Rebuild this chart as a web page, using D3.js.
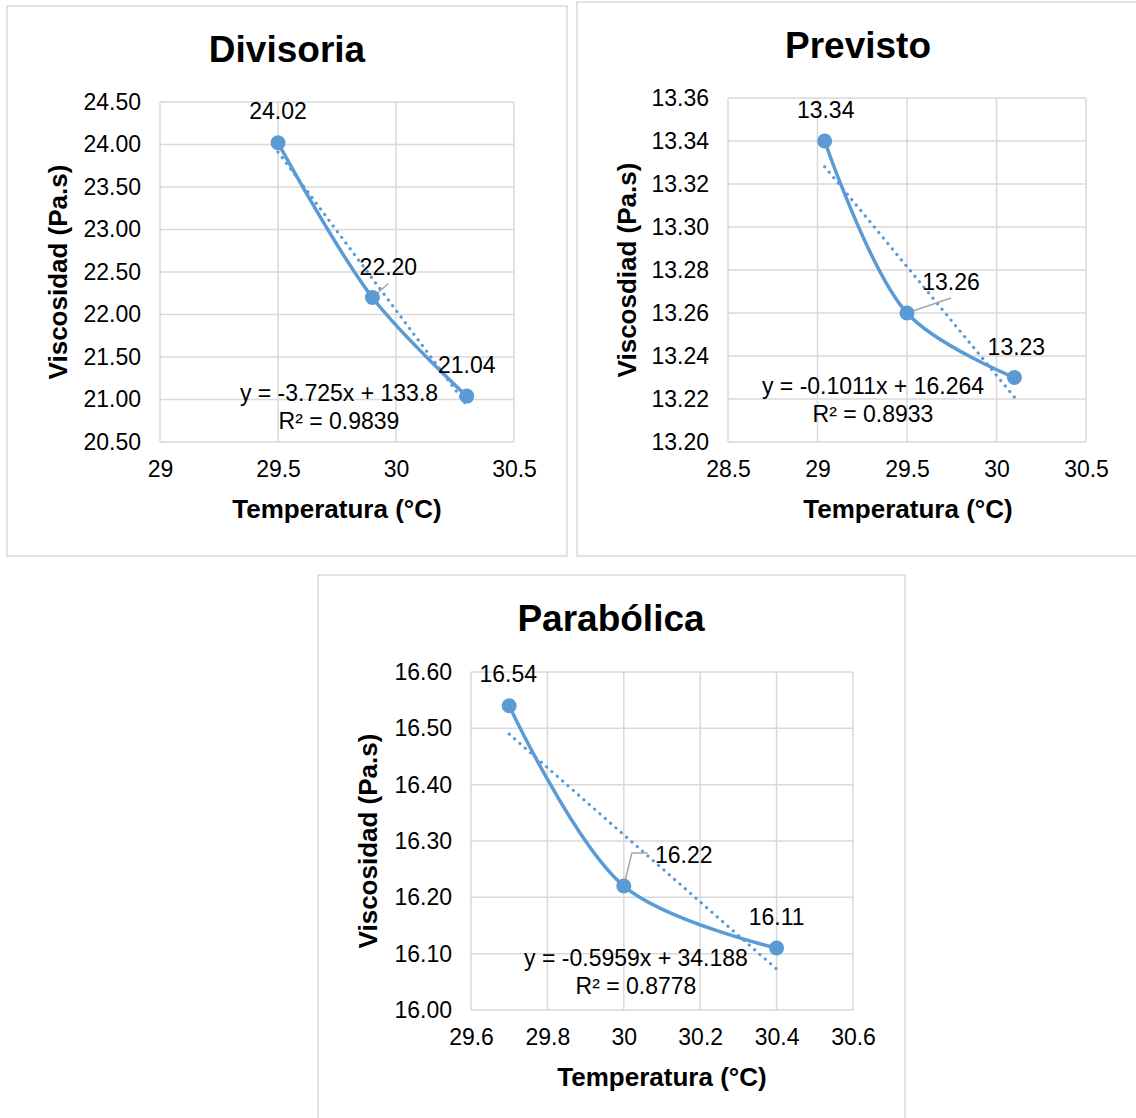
<!DOCTYPE html>
<html>
<head>
<meta charset="utf-8">
<script src="https://cdn.jsdelivr.net/npm/d3@7"></script>
<style>
  body { margin: 0; background: #fff; }
  svg { display: block; font-family: "Liberation Sans", Arial, sans-serif; }
  .grid line { stroke: #d9d9d9; stroke-width: 1.5; }
  .tick text { font-size: 23px; fill: #000; }
</style>
</head>
<body>
<svg id="chart" width="1136" height="1118"></svg>
<script>
// --- data ---
var divTemp = [29.5, 29.9, 30.3];
var divVisc = [24.02, 22.20, 21.04];
var divFit = [-3.725, 133.8];        // slope, intercept
var divR2 = "0.9839";
var divXTicks = [29, 29.5, 30, 30.5];
var divYTicks = [20.5, 21, 21.5, 22, 22.5, 23, 23.5, 24, 24.5];

var preTemp = [29.04, 29.5, 30.1];
var preVisc = [13.34, 13.26, 13.23];
var preFit = [-0.1011, 16.264];
var preR2 = "0.8933";
var preXTicks = [28.5, 29, 29.5, 30, 30.5];
var preYTicks = [13.20, 13.22, 13.24, 13.26, 13.28, 13.30, 13.32, 13.34, 13.36];

var parTemp = [29.7, 30.0, 30.4];
var parVisc = [16.54, 16.22, 16.11];
var parFit = [-0.5959, 34.188];
var parR2 = "0.8778";
var parXTicks = [29.6, 29.8, 30, 30.2, 30.4, 30.6];
var parYTicks = [16.0, 16.1, 16.2, 16.3, 16.4, 16.5, 16.6];

var blue = "#5b9bd5";
var svg = d3.select("#chart");

function drawPanel(p) {
  var g = svg.append("g");

  // outer frame
  g.append("rect")
    .attr("x", p.frame[0]).attr("y", p.frame[1])
    .attr("width", p.frame[2]).attr("height", p.frame[3])
    .attr("fill", "#fff").attr("stroke", "#d9d9d9").attr("stroke-width", 1.5);

  var x = d3.scaleLinear().domain(d3.extent(p.xTicks)).range([p.left, p.right]);
  var y = d3.scaleLinear().domain(d3.extent(p.yTicks)).range([p.bottom, p.top]);

  // gridlines
  g.append("g").attr("class", "grid")
    .selectAll("line").data(p.xTicks).join("line")
    .attr("x1", d => x(d)).attr("x2", d => x(d))
    .attr("y1", p.top).attr("y2", p.bottom);
  g.append("g").attr("class", "grid")
    .selectAll("line").data(p.yTicks).join("line")
    .attr("x1", p.left).attr("x2", p.right)
    .attr("y1", d => y(d)).attr("y2", d => y(d));

  // axes (labels only, Excel style)
  var xa = g.append("g").attr("transform", "translate(0," + p.bottom + ")")
    .call(d3.axisBottom(x).tickValues(p.xTicks).tickSize(0).tickPadding(19).tickFormat(d3.format("")));
  var ya = g.append("g").attr("transform", "translate(" + p.left + ",0)")
    .call(d3.axisLeft(y).tickValues(p.yTicks).tickSize(0).tickPadding(19).tickFormat(d3.format(".2f")));
  [xa, ya].forEach(a => {
    a.select(".domain").remove();
    a.attr("font-family", "Liberation Sans, Arial, sans-serif");
  });

  var pts = p.xs.map((d, i) => [d, p.ys[i]]);

  // dotted linear trendline
  var tx = d3.extent(p.xs);
  g.append("line")
    .attr("x1", x(tx[0])).attr("y1", y(p.fit[0] * tx[0] + p.fit[1]))
    .attr("x2", x(tx[1])).attr("y2", y(p.fit[0] * tx[1] + p.fit[1]))
    .attr("stroke", blue).attr("stroke-width", 3.2)
    .attr("stroke-linecap", "round").attr("stroke-dasharray", "0.1 7");

  // smoothed series line
  var line = d3.line().x(d => x(d[0])).y(d => y(d[1])).curve(d3.curveCatmullRom.alpha(0.5));
  g.append("path").datum(pts).attr("d", line)
    .attr("fill", "none").attr("stroke", blue).attr("stroke-width", 3.5);

  // leader line for middle label
  var m = pts[1];
  g.append("path")
    .attr("d", d3.line()(p.leader.map(o => [x(m[0]) + o[0], y(m[1]) + o[1]])))
    .attr("fill", "none").attr("stroke", "#a6a6a6").attr("stroke-width", 1.5);

  g.selectAll("circle").data(pts).join("circle")
    .attr("cx", d => x(d[0])).attr("cy", d => y(d[1])).attr("r", 7.5)
    .attr("fill", blue);

  // data labels
  g.selectAll("text.lab").data(pts).join("text").attr("class", "lab")
    .attr("x", (d, i) => x(d[0]) + p.labOff[i][0])
    .attr("y", (d, i) => y(d[1]) + p.labOff[i][1])
    .attr("text-anchor", "middle").attr("font-size", 23)
    .text(d => d[1].toFixed(2));

  // equation
  var sign = p.fit[1] >= 0 ? " + " : " - ";
  g.append("text").attr("x", p.eq[0]).attr("y", p.eq[1])
    .attr("text-anchor", "middle").attr("font-size", 23)
    .text("y = " + p.fit[0] + "x" + sign + Math.abs(p.fit[1]));
  g.append("text").attr("x", p.eq[0]).attr("y", p.eq[1] + 28)
    .attr("text-anchor", "middle").attr("font-size", 23)
    .text("R² = " + p.r2);

  // titles
  g.append("text").attr("x", p.titlePos[0]).attr("y", p.titlePos[1])
    .attr("text-anchor", "middle").attr("font-size", 37).attr("font-weight", "bold")
    .text(p.title);
  g.append("text").attr("x", p.xTitleX).attr("y", p.bottom + 76)
    .attr("text-anchor", "middle").attr("font-size", 26).attr("font-weight", "bold")
    .text("Temperatura (°C)");
  g.append("text")
    .attr("transform", "translate(" + p.yTitleX + "," + (p.top + p.bottom) / 2 + ") rotate(-90)")
    .attr("text-anchor", "middle").attr("font-size", 26).attr("font-weight", "bold")
    .text(p.yTitle);
}

drawPanel({
  frame: [7, 6, 560, 550], left: 160, right: 514, top: 102, bottom: 442,
  xTicks: divXTicks, yTicks: divYTicks, xs: divTemp, ys: divVisc, fit: divFit, r2: divR2,
  labOff: [[0, -24], [16, -23], [0, -23]], leader: [[0, 0], [16, -14]],
  eq: [339, 401], title: "Divisoria", titlePos: [287, 62],
  xTitleX: 337, yTitle: "Viscosidad (Pa.s)", yTitleX: 67
});
drawPanel({
  frame: [577, 2, 570, 554], left: 728, right: 1086, top: 98, bottom: 442,
  xTicks: preXTicks, yTicks: preYTicks, xs: preTemp, ys: preVisc, fit: preFit, r2: preR2,
  labOff: [[1, -23], [44, -23], [2, -23]], leader: [[0, 0], [44, -15]],
  eq: [873, 394], title: "Previsto", titlePos: [858, 58],
  xTitleX: 908, yTitle: "Viscosdiad (Pa.s)", yTitleX: 636
});
drawPanel({
  frame: [318, 575, 587, 560], left: 471, right: 853, top: 672, bottom: 1010,
  xTicks: parXTicks, yTicks: parYTicks, xs: parTemp, ys: parVisc, fit: parFit, r2: parR2,
  labOff: [[-1, -24], [60, -23], [0, -23]], leader: [[0, 0], [8, -33], [24, -33]],
  eq: [636, 966], title: "Parabólica", titlePos: [611, 631],
  xTitleX: 662, yTitle: "Viscosidad (Pa.s)", yTitleX: 377
});
</script>
</body>
</html>
